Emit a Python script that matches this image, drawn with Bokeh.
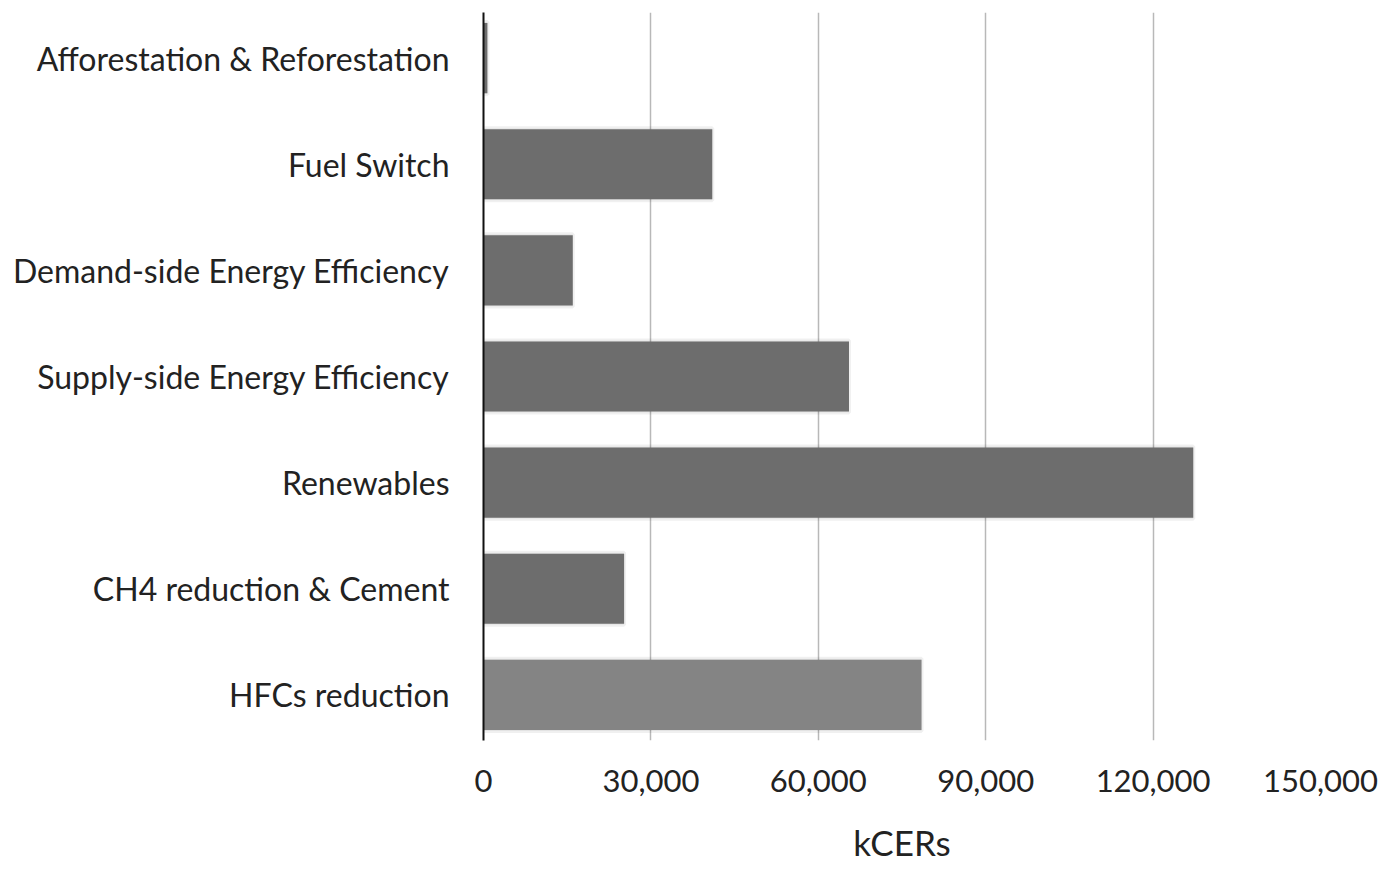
from bokeh.plotting import figure
from bokeh.models import FactorRange, Range1d, FixedTicker, NumeralTickFormatter, ColumnDataSource
from bokeh.embed import file_html
from bokeh.resources import INLINE

categories = [
    "Afforestation & Reforestation",
    "Fuel Switch",
    "Demand-side Energy Efficiency",
    "Supply-side Energy Efficiency",
    "Renewables",
    "CH4 reduction & Cement",
    "HFCs reduction",
]
values = [700, 41000, 16000, 65500, 127200, 25200, 78500]
colors = ["#6d6d6d", "#6d6d6d", "#6d6d6d", "#6d6d6d", "#6d6d6d", "#6d6d6d", "#848484"]
x_ticks = [0, 30000, 60000, 90000, 120000, 150000]
x_label = "kCERs"

FONT = "Lato"

src = ColumnDataSource(dict(cat=categories, val=values, color=colors))

y_range = FactorRange(factors=list(reversed(categories)),
                      range_padding=-0.07, range_padding_units="absolute")

p = figure(width=1382, height=868, y_range=y_range, x_range=Range1d(0, 150000),
           output_backend="svg", toolbar_location=None,
           min_border_left=483, min_border_right=62, min_border_top=12,
           min_border_bottom=128)
p.outline_line_color = None
p.background_fill_color = "white"
p.border_fill_color = "white"

# soft shadow
p.hbar(y="cat", right="val", left=0, height=0.68, source=src,
       fill_color="#000000", fill_alpha=0.05, line_color="#000000",
       line_alpha=0.06, line_width=4)
p.hbar(y="cat", right="val", left=0, height=0.66, source=src,
       fill_color="color", line_color=None)

p.ygrid.grid_line_color = None
p.xgrid.grid_line_color = "#b8b8b8"
p.xgrid.grid_line_width = 1.5
p.xgrid.ticker = FixedTicker(ticks=x_ticks)

xa = p.xaxis[0]
xa.ticker = FixedTicker(ticks=x_ticks)
xa.formatter = NumeralTickFormatter(format="0,0")
xa.axis_line_color = None
xa.major_tick_line_color = None
xa.minor_tick_line_color = None
xa.major_tick_out = 0
xa.major_tick_in = 0
xa.minor_tick_out = 0
xa.major_label_text_font = FONT
xa.major_label_text_font_size = "31px"
xa.major_label_text_color = "#222222"
xa.major_label_standoff = 29
xa.axis_label = x_label
xa.axis_label_text_font = FONT
xa.axis_label_text_font_size = "35px"
xa.axis_label_text_font_style = "normal"
xa.axis_label_text_color = "#222222"
xa.axis_label_standoff = 26

ya = p.yaxis[0]
ya.axis_line_color = "#111111"
ya.axis_line_width = 2
ya.major_tick_line_color = None
ya.minor_tick_line_color = None
ya.major_tick_out = 0
ya.major_tick_in = 0
ya.major_label_text_font = FONT
ya.major_label_text_font_size = "32px"
ya.major_label_text_color = "#222222"
ya.major_label_standoff = 34

open("out.html", "w").write(file_html(p, INLINE))
